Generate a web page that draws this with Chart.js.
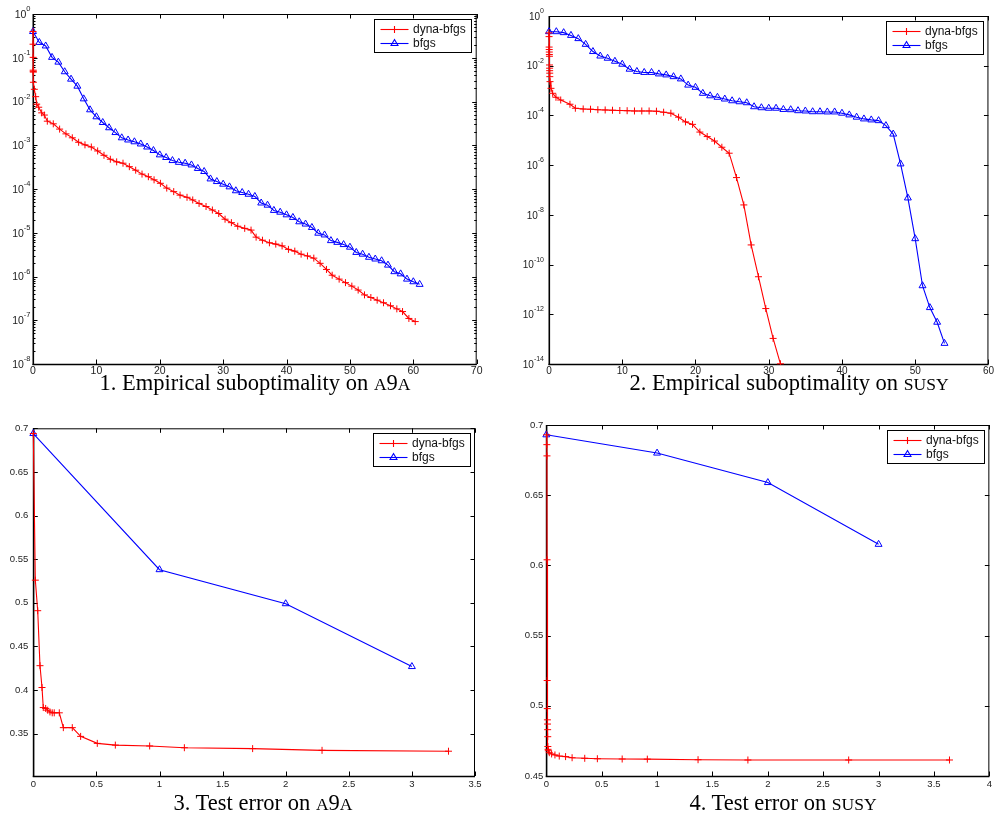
<!DOCTYPE html>
<html><head><meta charset="utf-8">
<script src="https://cdn.jsdelivr.net/npm/chart.js@4.4.1/dist/chart.umd.min.js"></script>
<style>
html,body{margin:0;padding:0;background:#fff;}
body{width:995px;height:824px;position:relative;overflow:hidden;}
canvas{position:absolute;}
.cap{position:absolute;width:420px;font-family:"Liberation Serif","DejaVu Serif",serif;font-size:22.5px;line-height:26px;color:#000;white-space:nowrap;text-align:center;}
.sc{font-size:0.78em;}
</style></head><body>
<canvas id="c1" width="497" height="385" style="left:0;top:0"></canvas>
<canvas id="c2" width="498" height="385" style="left:497px;top:0"></canvas>
<canvas id="c3" width="497" height="405" style="left:0;top:395px"></canvas>
<canvas id="c4" width="498" height="405" style="left:497px;top:395px"></canvas>
<div class="cap" style="left:45px;top:370px">1. Empirical suboptimality on <span class="sc">A</span>9<span class="sc">A</span></div>
<div class="cap" style="left:579px;top:370px">2. Empirical suboptimality on <span class="sc">SUSY</span></div>
<div class="cap" style="left:53px;top:790px">3. Test error on <span class="sc">A</span>9<span class="sc">A</span></div>
<div class="cap" style="left:573px;top:790px">4. Test error on <span class="sc">SUSY</span></div>
<script>
const SERIES = ['dyna-bfgs', 'bfgs'];

// ---- Plot 1: empirical suboptimality on a9a ----
const a9aSubDynaX = [0, 0.01, 0.02, 0.03, 0.04, 0.05, 0.06, 0.21, 0.42, 0.58, 0.9, 1.37, 1.79, 2.26,
  3.2, 4.2, 5.2, 6.2, 7.2, 8.2, 9.2, 10.2, 11.2, 12.2, 13.2, 14.2, 15.2, 16.2, 17.2, 18.2,
  19.1, 20.1, 21.1, 22.2, 23.2, 24.3, 25.2, 26.2, 27.3, 28.3, 29.3, 30.3, 31.3, 32.3, 33.4, 34.4,
  35.2, 36.2, 37.3, 38.3, 39.3, 40.3, 41.3, 42.3, 43.3, 44.3, 45.3, 46.3, 47.2, 48.3, 49.3, 50.3,
  51.3, 52.3, 53.3, 54.3, 55.3, 56.4, 57.4, 58.3, 59.3, 60.3];
const a9aSubDynaY = [0.398, 0.204, 0.102, 0.052, 0.049, 0.047, 0.0275, 0.019, 0.0129, 0.0087, 0.0074, 0.0055, 0.0049, 0.00355,
  3.09e-3, 2.34e-3, 1.82e-3, 1.48e-3, 1.17e-3, 1.02e-3, 9.12e-4, 7.41e-4, 5.89e-4, 4.79e-4, 4.17e-4, 3.89e-4, 3.24e-4, 2.69e-4, 2.19e-4, 1.91e-4,
  1.62e-4, 1.35e-4, 1.05e-4, 8.71e-5, 7.24e-5, 6.46e-5, 5.62e-5, 4.68e-5, 3.98e-5, 3.31e-5, 2.75e-5, 2.04e-5, 1.70e-5, 1.41e-5, 1.26e-5, 1.15e-5,
  7.94e-6, 6.76e-6, 5.89e-6, 5.50e-6, 5.01e-6, 4.17e-6, 3.80e-6, 3.24e-6, 2.95e-6, 2.63e-6, 2.00e-6, 1.45e-6, 1.07e-6, 8.71e-7, 7.24e-7, 6.03e-7,
  4.90e-7, 3.80e-7, 3.31e-7, 2.88e-7, 2.51e-7, 2.14e-7, 1.82e-7, 1.58e-7, 1.10e-7, 9.33e-8];
const a9aSubBfgsX = [0,1,2,3,4,5,6,7,8,9,10,11,12,13,14,15,16,17,18,19,20,21,22,23,24,25,26,27,28,29,30,
  31,32,33,34,35,36,37,38,39,40,41,42,43,44,45,46,47,48,49,50,51,52,53,54,55,56,57,58,59,60,61];
const a9aSubBfgsY = [0.398, 0.224, 0.186, 0.102, 0.0794, 0.0479, 0.0324, 0.0224, 0.0115, 6.46e-3, 4.47e-3,
  3.31e-3, 2.51e-3, 1.95e-3, 1.48e-3, 1.32e-3, 1.20e-3, 1.07e-3, 9.12e-4, 7.59e-4, 6.03e-4,
  5.25e-4, 4.47e-4, 4.07e-4, 3.89e-4, 3.55e-4, 2.95e-4, 2.51e-4, 1.70e-4, 1.48e-4, 1.29e-4,
  1.12e-4, 9.12e-5, 8.32e-5, 7.59e-5, 6.76e-5, 4.79e-5, 4.27e-5, 3.24e-5, 2.95e-5, 2.57e-5,
  2.24e-5, 1.78e-5, 1.58e-5, 1.32e-5, 9.77e-6, 8.91e-6, 6.61e-6, 6.03e-6, 5.37e-6, 4.68e-6,
  3.55e-6, 3.24e-6, 2.75e-6, 2.51e-6, 2.29e-6, 1.82e-6, 1.29e-6, 1.15e-6, 8.71e-7, 7.59e-7, 6.61e-7];
const xTicks1 = [0, 10, 20, 30, 40, 50, 60, 70];
const yExp1 = [0, -1, -2, -3, -4, -5, -6, -7, -8];

// ---- Plot 2: empirical suboptimality on susy ----
const susySubDynaX = [0, 0.01, 0.02, 0.03, 0.04, 0.05, 0.06, 0.07, 0.08, 0.09, 0.1, 0.11, 0.14, 0.27, 0.5, 0.95, 1.6, 2.86,
  3.6, 4.67, 5.67, 6.67, 7.67, 8.67, 9.67, 10.67, 11.67, 12.67, 13.67, 14.67, 15.65, 16.64, 17.69, 18.64, 19.6,
  20.6, 21.6, 22.6, 23.6, 24.6, 25.6, 26.6, 27.6, 28.6, 29.6, 30.6, 31.6];
const susySubDynaY = [0.209, 0.148, 0.0562, 0.0447, 0.0355, 0.0282, 0.0240, 0.0107, 7.94e-3, 6.31e-3, 5.01e-3, 3.63e-3,
  2.29e-3, 1.23e-3, 7.76e-4, 5.37e-4, 4.17e-4, 2.82e-4, 1.95e-4, 1.82e-4, 1.78e-4, 1.70e-4, 1.66e-4, 1.62e-4, 1.58e-4,
  1.55e-4, 1.51e-4, 1.51e-4, 1.51e-4, 1.48e-4, 1.35e-4, 1.23e-4, 8.51e-5, 5.50e-5, 4.37e-5, 2.14e-5, 1.41e-5, 9.33e-6,
  5.25e-6, 3.02e-6, 3.16e-7, 2.51e-8, 6.17e-10, 3.24e-11, 1.70e-12, 1.07e-13, 1.02e-14];
const susySubBfgsX = [0,1,2,3,4,5,6,7,8,9,10,11,12,13,14,15,16,17,18,19,20,21,22,23,24,25,26,27,
  28,29,30,31,32,33,34,35,36,37,38,39,40,41,42,43,44,45,46,47,48,49,50,51,52,53,54];
const susySubBfgsY = [0.234, 0.234, 0.214, 0.166, 0.123, 0.0724, 0.0372, 0.0245, 0.0200, 0.0151, 0.0115,
  7.24e-3, 5.89e-3, 5.37e-3, 5.37e-3, 4.68e-3, 4.27e-3, 3.63e-3, 2.95e-3, 1.66e-3, 1.35e-3,
  7.76e-4, 6.17e-4, 5.37e-4, 4.57e-4, 3.89e-4, 3.55e-4, 3.24e-4, 2.24e-4, 2.04e-4, 1.95e-4,
  1.95e-4, 1.74e-4, 1.70e-4, 1.55e-4, 1.51e-4, 1.41e-4, 1.41e-4, 1.38e-4, 1.38e-4, 1.23e-4,
  1.05e-4, 8.51e-5, 7.24e-5, 6.61e-5, 6.17e-5, 3.89e-5, 1.78e-5, 1.12e-6, 4.79e-8, 1.10e-9,
  1.41e-11, 1.86e-12, 4.79e-13, 6.76e-14];
const xTicks2 = [0, 10, 20, 30, 40, 50, 60];
const yExp2 = [0, -2, -4, -6, -8, -10, -12, -14];

// ---- Plot 3: test error on a9a ----
const a9aErrDynaX = [0, 0.016, 0.035, 0.053, 0.069, 0.079, 0.098, 0.114, 0.132, 0.15, 0.166, 0.206, 0.238,
  0.309, 0.375, 0.507, 0.65, 0.922, 1.197, 1.738, 2.288, 3.29];
const a9aErrDynaY = [0.694, 0.526, 0.491, 0.428, 0.403, 0.380, 0.379, 0.377, 0.375, 0.374, 0.374, 0.374, 0.357,
  0.357, 0.347, 0.339, 0.337, 0.336, 0.334, 0.333, 0.331, 0.330];
const a9aErrBfgsX = [0, 1, 2, 3];
const a9aErrBfgsY = [0.694, 0.538, 0.499, 0.427];
const xTicks3 = [0, 0.5, 1, 1.5, 2, 2.5, 3, 3.5];
const yTicks3 = [0.35, 0.4, 0.45, 0.5, 0.55, 0.6, 0.65, 0.7];

// ---- Plot 4: test error on susy ----
const susyErrDynaX = [0.004, 0.005, 0.006, 0.007, 0.008, 0.009, 0.01, 0.011, 0.012, 0.013, 0.014, 0.016, 0.018,
  0.027, 0.048, 0.078, 0.117, 0.174, 0.233, 0.347, 0.461, 0.685, 0.912, 1.37, 1.82, 2.73, 3.64];
const susyErrDynaY = [0.693, 0.686, 0.678, 0.604, 0.518, 0.498, 0.49, 0.487, 0.483, 0.478, 0.471, 0.469, 0.468,
  0.4666, 0.4657, 0.465, 0.4642, 0.4638, 0.463, 0.4626, 0.4623, 0.4621, 0.462, 0.4616, 0.4614, 0.4614, 0.4614];
const susyErrBfgsX = [0, 1, 2, 3];
const susyErrBfgsY = [0.693, 0.680, 0.659, 0.615];
const xTicks4 = [0, 0.5, 1, 1.5, 2, 2.5, 3, 3.5, 4];
const yTicks4 = [0.45, 0.5, 0.55, 0.6, 0.65, 0.7];

// ---------------- rendering ----------------
const RED = '#ff0000', BLUE = '#0000ff';
const SANS = '"Liberation Sans", Arial, Helvetica, sans-serif';
const TXT = '#222';

function series(label, xs, ys, color, style, r) {
  return {
    label, data: xs.map((x, i) => ({ x, y: ys[i] })),
    borderColor: color, backgroundColor: 'rgba(0,0,0,0)', borderWidth: 1.1,
    pointStyle: style, pointRadius: r, pointHoverRadius: r, pointBorderWidth: 1,
    pointBorderColor: color, pointBackgroundColor: 'rgba(0,0,0,0)',
    showLine: true, tension: 0, clip: { left: 6, top: 6, right: 6, bottom: 1 }
  };
}
const fmt = v => String(+(+v).toFixed(3));

const matlabAxes = {
  id: 'matlabAxes',
  beforeDatasetsDraw(chart, args, o) {
    const { ctx, chartArea: a } = chart;
    const xs = chart.scales.x, ys = chart.scales.y;
    ctx.save();
    ctx.strokeStyle = '#000';
    ctx.lineWidth = 1;
    const line = (x1, y1, x2, y2) => { ctx.beginPath(); ctx.moveTo(x1, y1); ctx.lineTo(x2, y2); ctx.stroke(); };
    const TL = 4.5;
    xs.ticks.forEach(t => {
      const p = Math.round(xs.getPixelForValue(t.value)) + 0.5;
      line(p, a.bottom, p, a.bottom - TL); line(p, a.top, p, a.top + TL);
    });
    ys.ticks.forEach(t => {
      const p = Math.round(ys.getPixelForValue(t.value)) + 0.5;
      line(a.left, p, a.left + TL, p); line(a.right, p, a.right - TL, p);
    });
    if (o.minor) {
      o.exps.forEach(e => {
        for (let k = 2; k <= 9; k++) {
          const v = k * Math.pow(10, e);
          if (v > ys.max || v < ys.min) continue;
          const p = Math.round(ys.getPixelForValue(v)) + 0.5;
          line(a.left, p, a.left + 2.5, p); line(a.right, p, a.right - 2.5, p);
        }
      });
    }
    // box
    ctx.lineWidth = 1;
    line(a.left, a.top + 0.5, a.right, a.top + 0.5);
    line(a.right - 0.5, a.top, a.right - 0.5, a.bottom);
    ctx.lineWidth = 1.6;
    line(a.left - 0.5, a.bottom + 0.5, a.right, a.bottom + 0.5);
    line(a.left + 0.3, a.top, a.left + 0.3, a.bottom + 1);
    // log tick labels with superscript exponents
    if (o.exps) {
      ctx.fillStyle = TXT;
      ctx.textBaseline = 'middle';
      o.exps.forEach(e => {
        const p = ys.getPixelForValue(Math.pow(10, e));
        const es = String(e);
        ctx.font = o.expSize + 'px ' + SANS;
        const ew = ctx.measureText(es).width;
        const ex = a.left - o.gap - ew;
        ctx.textAlign = 'left';
        ctx.fillText(es, ex, p - o.raise);
        ctx.font = o.baseSize + 'px ' + SANS;
        ctx.textAlign = 'right';
        ctx.fillText('10', ex, p + 1);
      });
    }
    ctx.restore();
  },
  afterDraw(chart) {
    const { ctx, chartArea: a } = chart;
    ctx.save();
    const line = (x1, y1, x2, y2) => { ctx.beginPath(); ctx.moveTo(x1, y1); ctx.lineTo(x2, y2); ctx.stroke(); };
    const W = 97, H = 33;
    const bx = Math.round(a.right - 5.5 - W) + 0.5, by = Math.round(a.top + 4.5) + 0.5;
    ctx.fillStyle = '#fff';
    ctx.fillRect(bx, by, W, H);
    ctx.lineWidth = 1;
    ctx.strokeStyle = '#000';
    ctx.strokeRect(bx, by, W, H);
    chart.data.datasets.forEach((d, i) => {
      const cy = by + 10 + i * 14;
      ctx.strokeStyle = d.borderColor;
      ctx.lineWidth = 1.1;
      line(bx + 6, cy, bx + 34, cy);
      ctx.fillStyle = 'rgba(0,0,0,0)';
      Chart.helpers.drawPoint(ctx, { pointStyle: d.pointStyle, radius: d.pointRadius, rotation: 0, borderWidth: 1 }, bx + 20, cy);
      ctx.fillStyle = '#111';
      ctx.font = '12px ' + SANS;
      ctx.textAlign = 'left';
      ctx.textBaseline = 'middle';
      ctx.fillText(d.label, bx + 38.5, cy + 0.5);
    });
    ctx.restore();
  }
};

function makeChart(id, cfg) {
  const xAxis = {
    type: 'linear', min: cfg.xmin, max: cfg.xmax,
    afterBuildTicks: s => { s.ticks = cfg.xticks.map(v => ({ value: v })); },
    afterFit: s => { s.height = cfg.xh; },
    ticks: { font: { family: SANS, size: cfg.xfont }, color: TXT, padding: cfg.xpad, maxRotation: 0, autoSkip: false, callback: v => fmt(v) },
    grid: { display: false, drawTicks: false }, border: { display: false }
  };
  const yAxis = cfg.log ? {
    type: 'logarithmic', min: Math.pow(10, Math.min(...cfg.exps)), max: Math.pow(10, Math.max(...cfg.exps)),
    afterBuildTicks: s => { s.ticks = cfg.exps.map(e => ({ value: Math.pow(10, e) })); },
    afterFit: s => { s.width = cfg.yw; },
    ticks: { display: false },
    grid: { display: false, drawTicks: false }, border: { display: false }
  } : {
    type: 'linear', min: cfg.ymin, max: cfg.ymax,
    afterBuildTicks: s => { s.ticks = cfg.yticks.map(v => ({ value: v })); },
    afterFit: s => { s.width = cfg.yw; },
    ticks: { font: { family: SANS, size: cfg.yfont }, color: TXT, padding: cfg.ypad, autoSkip: false, callback: v => fmt(v) },
    grid: { display: false, drawTicks: false }, border: { display: false }
  };
  return new Chart(document.getElementById(id), {
    type: 'scatter',
    data: { datasets: cfg.datasets },
    options: {
      responsive: false, animation: false, devicePixelRatio: 1,
      layout: { padding: cfg.pad },
      scales: { x: xAxis, y: yAxis },
      plugins: {
        legend: { display: false }, tooltip: { enabled: false },
        matlabAxes: cfg.axes
      }
    },
    plugins: [matlabAxes]
  });
}

makeChart('c1', {
  datasets: [
    series(SERIES[0], a9aSubDynaX, a9aSubDynaY, RED, 'cross', 3.5),
    series(SERIES[1], a9aSubBfgsX, a9aSubBfgsY, BLUE, 'triangle', 4)
  ],
  xmin: 0, xmax: 70, xticks: xTicks1, xfont: 10.5, xh: 21, xpad: 1,
  log: true, exps: yExp1, yw: 33,
  pad: { left: 0, top: 14, right: 20.3, bottom: 0 },
  axes: { exps: yExp1, minor: true, baseSize: 10.5, expSize: 7.5, gap: 2.5, raise: 5 }
});
makeChart('c2', {
  datasets: [
    series(SERIES[0], susySubDynaX, susySubDynaY, RED, 'cross', 3.5),
    series(SERIES[1], susySubBfgsX, susySubBfgsY, BLUE, 'triangle', 4)
  ],
  xmin: 0, xmax: 60, xticks: xTicks2, xfont: 10, xh: 21, xpad: 1,
  log: true, exps: yExp2, yw: 52,
  pad: { left: 0, top: 16, right: 5, bottom: 0 },
  axes: { exps: yExp2, minor: false, baseSize: 10, expSize: 7, gap: 5, raise: 5 }
});
makeChart('c3', {
  datasets: [
    series(SERIES[0], a9aErrDynaX, a9aErrDynaY, RED, 'cross', 3.5),
    series(SERIES[1], a9aErrBfgsX, a9aErrBfgsY, BLUE, 'triangle', 4)
  ],
  xmin: 0, xmax: 3.5, xticks: xTicks3, xfont: 9.5, xh: 24, xpad: 3,
  ymin: 0.3016, ymax: 0.7, yticks: yTicks3, yfont: 9.5, ypad: 5, yw: 33.3,
  pad: { left: 0, top: 33.3, right: 22, bottom: 0 },
  axes: {}
});
makeChart('c4', {
  datasets: [
    series(SERIES[0], susyErrDynaX, susyErrDynaY, RED, 'cross', 3.5),
    series(SERIES[1], susyErrBfgsX, susyErrBfgsY, BLUE, 'triangle', 4)
  ],
  xmin: 0, xmax: 4, xticks: xTicks4, xfont: 9.5, xh: 24, xpad: 3,
  ymin: 0.45, ymax: 0.7, yticks: yTicks4, yfont: 9.5, ypad: 3, yw: 49.3,
  pad: { left: 0, top: 30, right: 2.7, bottom: 0 },
  axes: {}
});
</script>
</body></html>
